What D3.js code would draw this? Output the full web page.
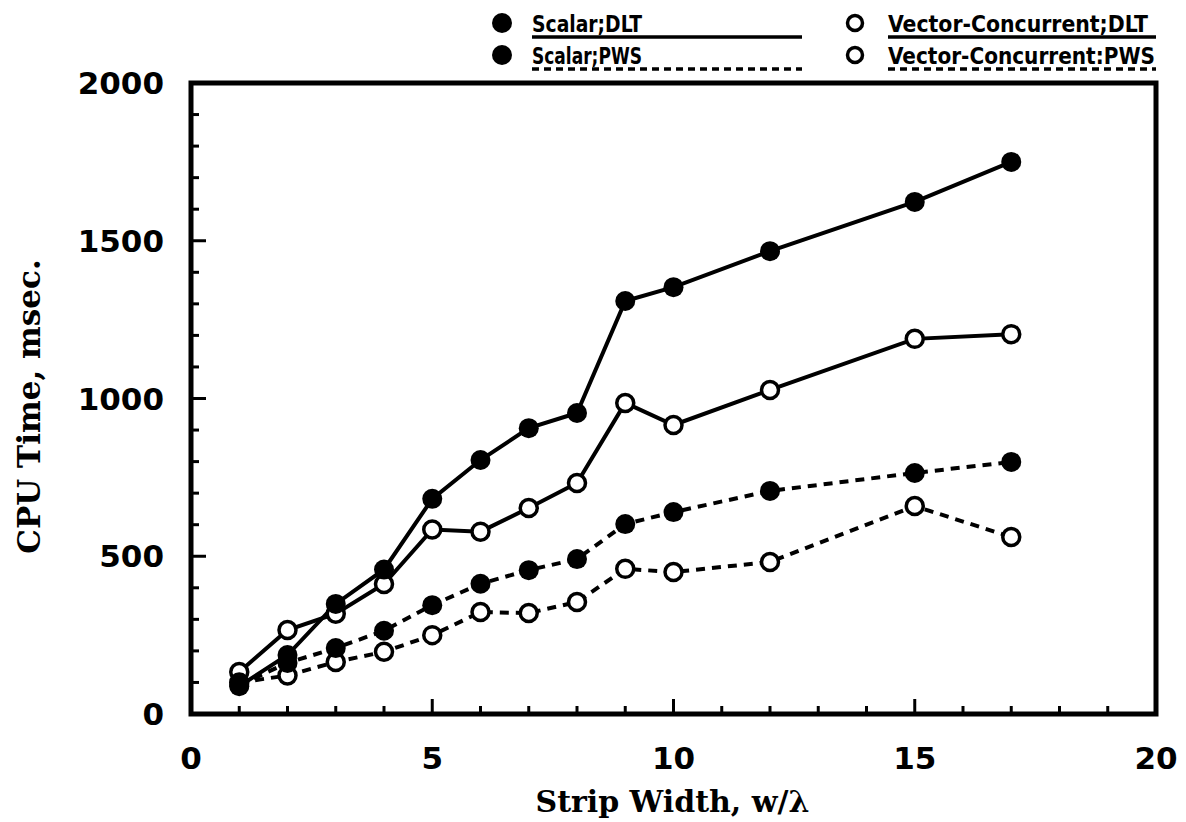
<!DOCTYPE html>
<html>
<head>
<meta charset="utf-8">
<script src="https://cdn.jsdelivr.net/npm/d3@7"></script>
<style>
body { margin: 0; background: #fff; }
.tick-label { font-family: "DejaVu Sans", sans-serif; font-weight: bold; font-size: 31px; fill: #000; }
.axis-title { font-family: "DejaVu Serif", serif; font-weight: bold; font-size: 30px; fill: #000; }
.legend-text { font-family: "DejaVu Sans Condensed", "DejaVu Sans", sans-serif; font-weight: bold; font-size: 23px; fill: #000; }
</style>
</head>
<body>
<svg id="chart"></svg>
<script>
// data
var stripWidth = [1, 2, 3, 4, 5, 6, 7, 8, 9, 10, 12, 15, 17];
var scalarDLT = [88, 187, 349, 458, 682, 805, 906, 954, 1309, 1353, 1467, 1623, 1750];
var scalarPWS = [92, 162, 209, 264, 345, 413, 456, 491, 602, 640, 707, 764, 799];
var vectorDLT = [133, 266, 318, 412, 585, 578, 653, 732, 986, 916, 1027, 1189, 1204];
var vectorPWS = [100, 122, 165, 197, 250, 323, 320, 355, 460, 450, 482, 659, 561];

var xTicks = [0, 5, 10, 15, 20];
var yTicks = [0, 500, 1000, 1500, 2000];

var seriesNames = ['Scalar;DLT', 'Scalar;PWS', 'Vector-Concurrent;DLT', 'Vector-Concurrent:PWS'];

//margins
var svgWidth = 1186,
svgHeight = 822;

var margin = {t: 83, r: 30, b: 108, l: 191};
var width = 1156 - margin.l,
height = 714 - margin.t;

var svg = d3.select('#chart')
	.attr('width', svgWidth)
	.attr('height', svgHeight);

var chart1 = svg.append('g')
	.attr('transform', `translate(${margin.l},${margin.t})`);

var xScale = d3.scaleLinear().domain([0, 20]).range([0, width]);
var yScale = d3.scaleLinear().domain([0, 2000]).range([height, 0]);

// inward ticks, minor every 1 / 100, longer at labels
chart1.selectAll('.xtick')
	.data(d3.range(1, 20))
	.enter()
	.append('line')
	.attr('x1', d => xScale(d))
	.attr('x2', d => xScale(d))
	.attr('y1', height)
	.attr('y2', d => height - (d % 5 === 0 ? 15 : 8))
	.attr('stroke', '#000')
	.attr('stroke-width', 3);

chart1.selectAll('.ytick')
	.data(d3.range(100, 2000, 100))
	.enter()
	.append('line')
	.attr('x1', 0)
	.attr('x2', d => (d % 500 === 0 ? 15 : 8))
	.attr('y1', d => yScale(d))
	.attr('y2', d => yScale(d))
	.attr('stroke', '#000')
	.attr('stroke-width', 3);

// frame
chart1.append('rect')
	.attr('x', 0)
	.attr('y', 0)
	.attr('width', width)
	.attr('height', height)
	.attr('fill', 'none')
	.attr('stroke', '#000')
	.attr('stroke-width', 5);

chart1.selectAll('.xlab')
	.data(xTicks)
	.enter()
	.append('text')
	.attr('class', 'tick-label')
	.attr('x', d => xScale(d))
	.attr('y', height + 55)
	.attr('text-anchor', 'middle')
	.text(d => d);

chart1.selectAll('.ylab')
	.data(yTicks)
	.enter()
	.append('text')
	.attr('class', 'tick-label')
	.attr('x', -27)
	.attr('y', d => yScale(d) + 11)
	.attr('text-anchor', 'end')
	.text(d => d);

chart1.append('text')
	.attr('class', 'axis-title')
	.attr('x', width / 2 - 1)
	.attr('y', height + 98)
	.attr('text-anchor', 'middle')
	.text('Strip Width, w/λ');

chart1.append('text')
	.attr('class', 'axis-title')
	.attr('transform', `translate(-151,${height / 2 + 8})rotate(-90)`)
	.attr('text-anchor', 'middle')
	.style('font-size', '31px')
	.text('CPU Time, msec.');

// series
var series = [
	{name: seriesNames[0], values: scalarDLT, filled: true, dash: null},
	{name: seriesNames[1], values: scalarPWS, filled: true, dash: '9,7'},
	{name: seriesNames[2], values: vectorDLT, filled: false, dash: null},
	{name: seriesNames[3], values: vectorPWS, filled: false, dash: '9,7'}
];

var line = d3.line()
	.x(d => xScale(d[0]))
	.y(d => yScale(d[1]));

series.forEach(s => {
	var pts = stripWidth.map((w, i) => [w, s.values[i]]);
	chart1.append('path')
		.datum(pts)
		.attr('d', line)
		.attr('fill', 'none')
		.attr('stroke', '#000')
		.attr('stroke-width', 4)
		.attr('stroke-dasharray', s.dash);
});

// open markers first, filled ones on top
[2, 3, 0, 1].forEach(k => {
	var s = series[k];
	var pts = stripWidth.map((w, i) => [w, s.values[i]]);
	chart1.selectAll(null)
		.data(pts)
		.enter()
		.append('circle')
		.attr('cx', d => xScale(d[0]))
		.attr('cy', d => yScale(d[1]))
		.attr('r', s.filled ? 10 : 8.5)
		.attr('fill', s.filled ? '#000' : '#fff')
		.attr('stroke', '#000')
		.attr('stroke-width', s.filled ? 0 : 3.5);
});

// legend
var legendPos = [
	{cx: 502, tx: 532, y: 23, ly: 37, lx2: 802, tw: 110},
	{cx: 502, tx: 532, y: 55, ly: 69, lx2: 802, tw: 110},
	{cx: 855, tx: 888, y: 23, ly: 37, lx2: 1156, tw: 260},
	{cx: 855, tx: 888, y: 55, ly: 69, lx2: 1156, tw: 267}
];

series.forEach((s, i) => {
	var p = legendPos[i];
	svg.append('circle')
		.attr('cx', p.cx)
		.attr('cy', p.y)
		.attr('r', s.filled ? 10 : 7.5)
		.attr('fill', s.filled ? '#000' : '#fff')
		.attr('stroke', '#000')
		.attr('stroke-width', s.filled ? 0 : 3.5);
	svg.append('text')
		.attr('class', 'legend-text')
		.attr('x', p.tx)
		.attr('y', p.y + 9)
		.attr('textLength', p.tw)
		.attr('lengthAdjust', 'spacingAndGlyphs')
		.text(s.name);
	svg.append('line')
		.attr('x1', p.tx)
		.attr('x2', p.lx2)
		.attr('y1', p.ly)
		.attr('y2', p.ly)
		.attr('stroke', '#000')
		.attr('stroke-width', 3.5)
		.attr('stroke-dasharray', s.dash ? '7,5' : null);
});
</script>
</body>
</html>
